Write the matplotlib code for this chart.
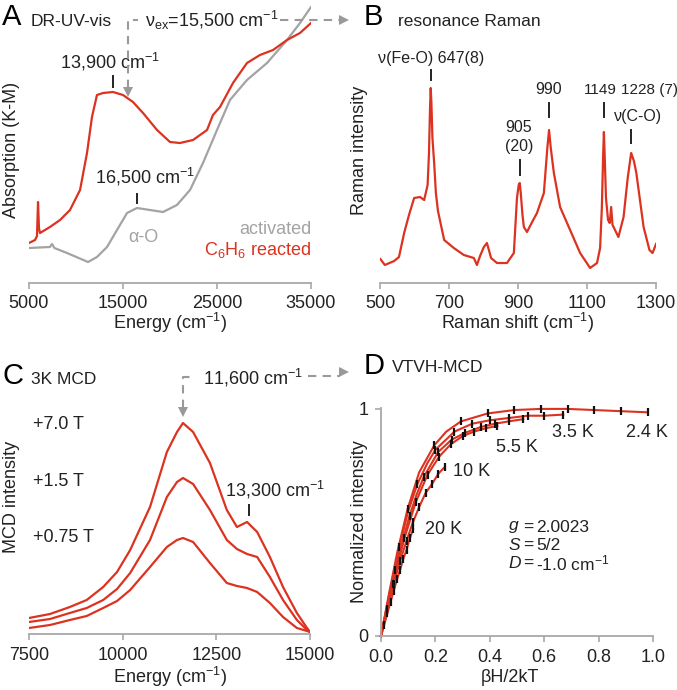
import numpy as np
import matplotlib.pyplot as plt
from matplotlib.lines import Line2D

plt.rcParams['font.family'] = ['Liberation Sans', 'DejaVu Sans']
plt.rcParams['mathtext.fontset'] = 'custom'
plt.rcParams['mathtext.rm'] = 'Liberation Sans'
plt.rcParams['mathtext.it'] = 'Liberation Sans:italic'

# --- A: DR-UV-vis ---
abs_energy_red = [5000, 5640, 5850, 5960, 6060, 6170, 7230, 8300, 9360, 10430, 11170, 11700,
                  12230, 12870, 13940, 15000, 16060, 17130, 18620, 20000, 21060, 22450, 23940,
                  24570, 25320, 26700, 28190, 29570, 30960, 32450, 33830, 35000]
abs_red = [0.40, 0.43, 0.47, 0.81, 0.55, 0.50, 0.56, 0.63, 0.73, 0.93, 1.30, 1.66,
           1.88, 1.90, 1.91, 1.88, 1.81, 1.70, 1.53, 1.41, 1.40, 1.43, 1.53,
           1.68, 1.76, 2.00, 2.20, 2.28, 2.33, 2.43, 2.50, 2.60]
abs_energy_gray = [5000, 7230, 7450, 7700, 9040, 11280, 12230, 13300, 14360, 15430, 16490, 17870,
                   19260, 20740, 22130, 23510, 25000, 26380, 28190, 30320, 32450, 33830, 35000]
abs_gray = [0.35, 0.36, 0.39, 0.35, 0.30, 0.21, 0.26, 0.36, 0.53, 0.70, 0.75, 0.73,
            0.71, 0.78, 0.93, 1.20, 1.53, 1.83, 2.03, 2.20, 2.43, 2.60, 2.76]

# --- B: resonance Raman ---
raman_shift = [501, 514, 541, 555, 570, 584, 599, 616, 628, 638, 642, 645, 647, 649, 652, 657,
               662, 668, 686, 714, 743, 772, 781, 790, 801, 810, 822, 839, 868, 888, 897, 902,
               905, 908, 913, 917, 926, 941, 955, 975, 985, 990, 995, 1004, 1022, 1051, 1080,
               1109, 1129, 1138, 1143, 1147, 1149, 1151, 1155, 1161, 1166, 1170, 1174, 1177,
               1191, 1206, 1218, 1228, 1236, 1243, 1264, 1281, 1290, 1300]
raman_int = [0.24, 0.18, 0.22, 0.26, 0.50, 0.68, 0.85, 0.86, 0.83, 0.98, 1.30, 1.75, 1.95, 1.80, 1.45, 1.20,
             0.90, 0.72, 0.43, 0.35, 0.28, 0.25, 0.18, 0.27, 0.36, 0.40, 0.25, 0.20, 0.20, 0.30, 0.85, 0.98,
             1.00, 0.90, 0.68, 0.56, 0.51, 0.61, 0.70, 0.90, 1.35, 1.53, 1.35, 1.10, 0.76, 0.53, 0.30,
             0.15, 0.20, 0.35, 0.75, 1.30, 1.51, 1.30, 0.85, 0.63, 0.60, 0.76, 0.58, 0.56,
             0.46, 0.66, 1.05, 1.30, 1.22, 1.10, 0.56, 0.33, 0.30, 0.39]

# --- C: 3K MCD ---
mcd_energy = [7500, 8060, 8590, 9040, 9480, 9850, 10200, 10730, 11180, 11450, 11610, 11880,
              12330, 12780, 13050, 13320, 13590, 13930, 14280, 14650, 14920, 15000]
mcd_7T = [0.16, 0.20, 0.27, 0.34, 0.47, 0.62, 0.84, 1.27, 1.82, 2.02, 2.11, 2.02,
          1.71, 1.24, 1.07, 1.12, 1.02, 0.77, 0.47, 0.21, 0.06, 0.02]
mcd_1p5T = [0.12, 0.15, 0.21, 0.26, 0.34, 0.45, 0.61, 0.94, 1.37, 1.52, 1.56, 1.50,
            1.24, 0.94, 0.85, 0.80, 0.77, 0.57, 0.34, 0.14, 0.04, 0.02]
mcd_0p75T = [0.06, 0.09, 0.14, 0.18, 0.26, 0.33, 0.44, 0.67, 0.87, 0.94, 0.96, 0.92,
             0.71, 0.51, 0.48, 0.46, 0.42, 0.31, 0.17, 0.06, 0.03, 0.02]

# --- D: VTVH-MCD (fits and data) ---
fit_x_24 = [0, 0.03, 0.06, 0.098, 0.14, 0.196, 0.24, 0.294, 0.392, 0.49, 0.588, 0.686, 0.784, 0.882, 0.98]
fit_y_24 = [0, 0.19, 0.37, 0.56, 0.72, 0.84, 0.90, 0.945, 0.98, 0.995, 1.0, 1.0, 0.995, 0.99, 0.985]
fit_x_35 = [0, 0.03, 0.067, 0.10, 0.134, 0.17, 0.20, 0.27, 0.336, 0.40, 0.47, 0.54, 0.60, 0.67]
fit_y_35 = [0, 0.18, 0.39, 0.55, 0.67, 0.76, 0.82, 0.90, 0.935, 0.95, 0.96, 0.97, 0.97, 0.975]
fit_x_45 = [0, 0.03, 0.052, 0.08, 0.105, 0.13, 0.157, 0.21, 0.26, 0.31, 0.366, 0.42, 0.47, 0.523]
fit_y_45 = [0, 0.17, 0.29, 0.42, 0.53, 0.62, 0.70, 0.81, 0.865, 0.895, 0.92, 0.935, 0.945, 0.955]
fit_x_55 = [0, 0.043, 0.086, 0.128, 0.171, 0.214, 0.257, 0.30, 0.342, 0.385, 0.428]
fit_y_55 = [0, 0.23, 0.43, 0.59, 0.71, 0.79, 0.845, 0.88, 0.90, 0.915, 0.925]
fit_x_10 = [0, 0.0235, 0.047, 0.07, 0.094, 0.117, 0.141, 0.164, 0.188, 0.211, 0.235]
fit_y_10 = [0, 0.12, 0.23, 0.33, 0.42, 0.50, 0.57, 0.63, 0.67, 0.715, 0.745]
fit_x_20 = [0, 0.0118, 0.0235, 0.035, 0.047, 0.059, 0.07, 0.082, 0.094, 0.106, 0.118]
fit_y_20 = [0, 0.05, 0.10, 0.15, 0.20, 0.25, 0.29, 0.34, 0.38, 0.43, 0.47]

pts_x_24 = [0.098, 0.196, 0.294, 0.392, 0.49, 0.588, 0.686, 0.784, 0.882, 0.98]
pts_y_24 = [0.56, 0.84, 0.945, 0.98, 0.995, 1.0, 1.0, 0.995, 0.99, 0.985]
pts_x_35 = [0.067, 0.134, 0.20, 0.27, 0.336, 0.40, 0.47, 0.54, 0.60, 0.67]
pts_y_35 = [0.39, 0.67, 0.82, 0.90, 0.935, 0.95, 0.96, 0.97, 0.97, 0.975]
pts_x_45 = [0.052, 0.105, 0.157, 0.21, 0.26, 0.31, 0.366, 0.42, 0.47, 0.523]
pts_y_45 = [0.29, 0.53, 0.70, 0.81, 0.865, 0.895, 0.92, 0.935, 0.945, 0.955]
pts_x_55 = [0.043, 0.086, 0.128, 0.171, 0.214, 0.257, 0.30, 0.342, 0.385, 0.428]
pts_y_55 = [0.23, 0.43, 0.59, 0.71, 0.79, 0.845, 0.88, 0.90, 0.915, 0.925]
pts_x_10 = fit_x_10[1:]
pts_y_10 = fit_y_10[1:]
pts_x_20 = fit_x_20[1:]
pts_y_20 = fit_y_20[1:]

W, H = 677, 690
RED = '#dc3220'
GRAY = '#a3a3a3'
AXIS = '#a8a8a8'
INK = '#222222'
FS = 13
FA = 11.5  # peak annotations in B


def box(left, top, right, bottom):
    return [left / W, 1 - bottom / H, (right - left) / W, (bottom - top) / H]


def fx(x):
    return x / W


def fy(y):
    return 1 - y / H


def txt(x, y, s, **kw):
    kw.setdefault('va', 'center')
    kw.setdefault('fontsize', FS)
    kw.setdefault('color', INK)
    fig.text(fx(x), fy(y), s, **kw)


def style(ax, left=False):
    for s in ['top', 'right', 'left']:
        ax.spines[s].set_visible(False)
    ax.spines['bottom'].set_color(AXIS)
    ax.spines['bottom'].set_linewidth(1.3)
    ax.tick_params(axis='x', colors=AXIS, labelcolor=INK, length=4, width=1.2,
                   labelsize=FS, pad=5)
    if left:
        ax.spines['left'].set_visible(True)
        ax.spines['left'].set_color(AXIS)
        ax.spines['left'].set_linewidth(1.3)
        ax.tick_params(axis='y', colors=AXIS, labelcolor=INK, length=4, width=1.2,
                       labelsize=FS, pad=5)
    else:
        ax.set_yticks([])


def dash(xs, ys):
    fig.add_artist(Line2D([fx(x) for x in xs], [fy(y) for y in ys], color='#999999',
                          lw=1.5, ls=(0, (4, 3))))


def head(x, y, m):
    fig.add_artist(Line2D([fx(x)], [fy(y)], marker=m, color='#999999', ms=7, mew=0))


def peak_tick(ax, x, y0, y1):
    ax.plot([x, x], [y0, y1], color=INK, lw=1.4)


fig = plt.figure(figsize=(W / 100, H / 100), dpi=100)

# Panel A
axA = fig.add_axes(box(29, 5, 311, 283))
axA.plot(abs_energy_gray, abs_gray, color=GRAY, lw=1.6)
axA.plot(abs_energy_red, abs_red, color=RED, lw=1.6)
axA.set_xlim(5000, 35000)
axA.set_ylim(0, 2.78)
axA.set_xticks([5000, 15000, 25000, 35000])
style(axA)
axA.text(13620, 2.21, '13,900 cm$^{-1}$', ha='center', va='center', fontsize=FS, color=INK)
peak_tick(axA, 13900, 1.96, 2.07)
axA.text(17340, 1.06, '16,500 cm$^{-1}$', ha='center', va='center', fontsize=FS, color=INK)
peak_tick(axA, 16500, 0.80, 0.89)
axA.text(17130, 0.45, 'α-O', ha='center', va='center', fontsize=FS, color=GRAY)
axA.text(35000, 0.54, 'activated', ha='right', va='center', fontsize=FS, color=GRAY)
axA.text(35000, 0.33, 'C$_6$H$_6$ reacted', ha='right', va='center', fontsize=FS, color=RED)

# Panel B
axB = fig.add_axes(box(380, 5, 656, 283))
axB.plot(raman_shift, raman_int, color=RED, lw=1.6)
axB.set_xlim(500, 1300)
axB.set_ylim(0, 2.78)
axB.set_xticks([500, 700, 900, 1100, 1300])
style(axB)
axB.text(647, 2.25, 'ν(Fe-O) 647(8)', ha='center', va='center', fontsize=FA, color=INK)
peak_tick(axB, 647, 2.03, 2.13)
axB.text(903, 1.46, '905\n(20)', ha='center', va='center', fontsize=FA, color=INK,
         linespacing=1.25)
peak_tick(axB, 905, 1.08, 1.23)
axB.text(990, 1.93, '990', ha='center', va='center', fontsize=FA, color=INK)
peak_tick(axB, 990, 1.66, 1.80)
axB.text(1139, 1.93, '1149', ha='center', va='center', fontsize=11, color=INK)
peak_tick(axB, 1149, 1.66, 1.80)
axB.text(1198, 1.93, '1228 (7)', ha='left', va='center', fontsize=11, color=INK)
axB.text(1248, 1.66, 'ν(C-O)', ha='center', va='center', fontsize=FA, color=INK)
peak_tick(axB, 1228, 1.40, 1.53)

# Panel C
axC = fig.add_axes(box(29, 360, 310, 634))
axC.plot(mcd_energy, mcd_0p75T, color=RED, lw=1.6)
axC.plot(mcd_energy, mcd_1p5T, color=RED, lw=1.6)
axC.plot(mcd_energy, mcd_7T, color=RED, lw=1.6)
axC.set_xlim(7500, 15000)
axC.set_ylim(0, 2.74)
axC.set_xticks([7500, 10000, 12500, 15000])
style(axC)
axC.text(7610, 2.09, '+7.0 T', ha='left', va='center', fontsize=FS, color=INK)
axC.text(7610, 1.52, '+1.5 T', ha='left', va='center', fontsize=FS, color=INK)
axC.text(7610, 0.96, '+0.75 T', ha='left', va='center', fontsize=FS, color=INK)
axC.text(14066, 1.44, '13,300 cm$^{-1}$', ha='center', va='center', fontsize=FS, color=INK)
peak_tick(axC, 13380, 1.19, 1.29)

# Panel D
axD = fig.add_axes(box(381, 408, 653, 636))
fits = [(fit_x_20, fit_y_20), (fit_x_10, fit_y_10), (fit_x_55, fit_y_55),
        (fit_x_45, fit_y_45), (fit_x_35, fit_y_35), (fit_x_24, fit_y_24)]
pts = [(pts_x_20, pts_y_20), (pts_x_10, pts_y_10), (pts_x_55, pts_y_55),
       (pts_x_45, pts_y_45), (pts_x_35, pts_y_35), (pts_x_24, pts_y_24)]
for fxs, fys in fits:
    axD.plot(fxs, fys, color=RED, lw=1.5, clip_on=False)
for pxs, pys in pts:
    axD.plot(pxs, pys, ls='none', marker='|', ms=6, mew=1.6, color='#111111', clip_on=False)
axD.set_xlim(0, 1.0)
axD.set_ylim(0, 1.004)
axD.set_xticks([0, 0.2, 0.4, 0.6, 0.8, 1.0])
axD.set_xticklabels(['0.0', '0.2', '0.4', '0.6', '0.8', '1.0'])
axD.set_yticks([0, 1])
axD.set_yticklabels(['0', '1'])
style(axD, left=True)
txt(647, 432, '2.4 K', ha='center')
txt(573, 432, '3.5 K', ha='center')
txt(517, 448, '5.5 K', ha='center')
txt(472, 471, '10 K', ha='center')
txt(444, 530, '20 K', ha='center')
txt(508, 527, '$g$', fontsize=12.5)
txt(508, 545, '$S$', fontsize=12.5)
txt(508, 563, '$D$', fontsize=12.5)
for yy in (527, 545, 563):
    txt(523, yy, '=', fontsize=12.5)
txt(536, 527, '2.0023', fontsize=12.5)
txt(536, 545, '5/2', fontsize=12.5)
txt(536, 563, '-1.0 cm$^{-1}$', fontsize=12.5)

# Panel headings
txt(2, 17, 'A', fontsize=21, color='black')
txt(31, 21, 'DR-UV-vis', fontsize=12.5)
txt(364, 17, 'B', fontsize=21, color='black')
txt(398, 21, 'resonance Raman', fontsize=12.5)
txt(2, 376, 'C', fontsize=21, color='black')
txt(31, 379, '3K MCD', fontsize=12.5)
txt(364, 366, 'D', fontsize=21, color='black')
txt(392, 368, 'VTVH-MCD', fontsize=12.5)

# Axis labels
txt(170, 323, 'Energy (cm$^{-1}$)', ha='center')
txt(517, 323, 'Raman shift (cm$^{-1}$)', ha='center')
txt(170, 677, 'Energy (cm$^{-1}$)', ha='center')
txt(510, 677, 'βH/2kT', ha='center')
txt(12, 150, 'Absorption (K-M)', ha='center', rotation=90)
txt(360, 150, 'Raman intensity', ha='center', rotation=90)
txt(12, 497, 'MCD intensity', ha='center', rotation=90)
txt(360, 522, 'Normalized intensity', ha='center', rotation=90)

# Excitation connectors
txt(145, 20, 'ν$_{\\rm ex}$=15,500 cm$^{-1}$')
dash([128, 128, 138], [88, 20, 20])
head(128, 92, 'v')
dash([280, 340], [20, 20])
head(344, 20, '>')

txt(203, 378, '11,600 cm$^{-1}$')
dash([183, 183, 193], [408, 377, 377])
head(183, 412, 'v')
dash([308, 340], [376, 376])
head(344, 372, '>')

fig.savefig('out.png', dpi=100)
